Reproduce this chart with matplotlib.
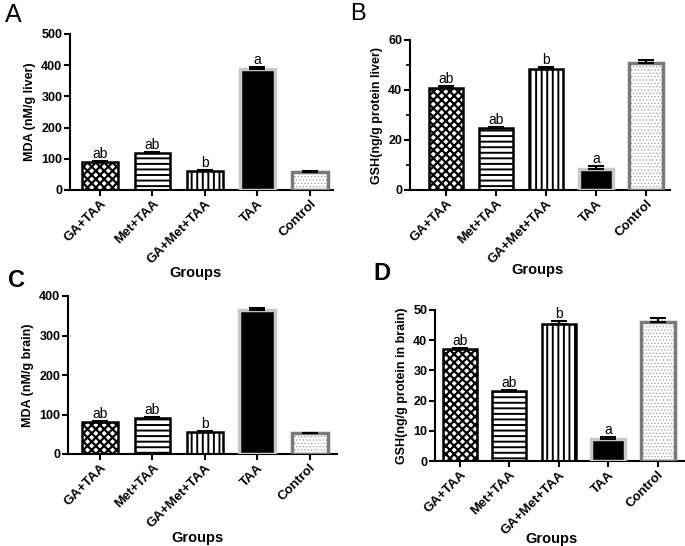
import matplotlib
matplotlib.use("Agg")
import matplotlib.pyplot as plt
from matplotlib.ticker import MultipleLocator

plt.rcParams['font.family'] = ['Liberation Sans', 'DejaVu Sans']
plt.rcParams['hatch.linewidth'] = 1.4

groups = ["GA+TAA", "Met+TAA", "GA+Met+TAA", "TAA", "Control"]

mda_liver = [90, 120, 62, 388, 58]
mda_liver_err = [3, 3, 3, 6, 3]
mda_liver_sig = ["ab", "ab", "b", "a", ""]

gsh_liver = [41, 25, 48.5, 8.5, 51]
gsh_liver_err = [0.5, 0.3, 0.8, 1.0, 1.0]
gsh_liver_sig = ["ab", "ab", "b", "a", ""]

mda_brain = [80, 91, 55, 364, 52]
mda_brain_err = [3, 2, 3, 5, 2]
mda_brain_sig = ["ab", "ab", "b", "", ""]

gsh_brain = [37, 23.2, 45.5, 7.3, 46]
gsh_brain_err = [0.5, 0.3, 1.0, 0.8, 1.2]
gsh_brain_sig = ["ab", "ab", "b", "a", ""]

fig = plt.figure(figsize=(6.85, 5.46), dpi=100)

W, H = 685.0, 546.0
def axpos(l, r, t, b):
    return [l / W, 1 - b / H, (r - l) / W, (b - t) / H]

hatches = ['xxxx', '---', '|||', None, '.....']
fills = ['white', 'white', 'white', 'black', 'white']
hatch_cols = ['black', 'black', 'black', 'black', '#9a9a9a']
hatch_lws = [1.6, 1.4, 1.4, 1.0, 0.5]
edge_cols = ['black', 'black', 'black', '#c8c8c8', '#7a7a7a']
edge_lw = [1.8, 1.8, 1.8, 2.5, 2.5]

def panel(rect, vals, errs, sig, ylim, ystep, ylabel, xlim, xlab_xy, minor=None):
    ax = fig.add_axes(axpos(*rect))
    x = list(range(len(groups)))
    w = 0.68
    for i in x:
        with plt.rc_context({'hatch.linewidth': hatch_lws[i]}):
            b = ax.bar(i, vals[i], width=w, color=fills[i], hatch=hatches[i],
                       edgecolor=hatch_cols[i], linewidth=0, zorder=2)
        for p in b.patches:
            if hasattr(p, 'set_hatch_linewidth'):
                p.set_hatch_linewidth(hatch_lws[i])
        ax.bar(i, vals[i], width=w, fill=False, edgecolor=edge_cols[i],
               linewidth=edge_lw[i], zorder=3)
    ax.errorbar(x, vals, yerr=[[0] * len(vals), errs], fmt='none',
                ecolor='black', elinewidth=1.5, capsize=6, capthick=1.5, zorder=4)
    for i in x:
        if sig[i]:
            ax.text(i, vals[i] + errs[i], sig[i], ha='center', va='bottom',
                    fontsize=10)
    ax.set_ylim(*ylim)
    ax.set_xlim(*xlim)
    ax.yaxis.set_major_locator(MultipleLocator(ystep))
    if minor:
        ax.yaxis.set_minor_locator(MultipleLocator(minor))
    ax.set_xticks(x)
    ax.set_xticklabels(groups, rotation=45, ha='right', rotation_mode='anchor',
                       fontsize=9.5, fontweight='bold')
    for lab in ax.get_yticklabels():
        lab.set_fontsize(9)
        lab.set_fontweight('bold')
    ax.spines['top'].set_visible(False)
    ax.spines['right'].set_visible(False)
    ax.spines['left'].set_linewidth(1.5)
    ax.spines['bottom'].set_linewidth(1.5)
    ax.tick_params(axis='both', which='major', width=1.5, length=4, pad=1.5)
    ax.tick_params(axis='y', which='minor', width=1.2, length=3)
    ax.set_ylabel(ylabel, fontsize=9, fontweight='bold', labelpad=4)
    fig.text(xlab_xy[0] / W, 1 - xlab_xy[1] / H, "Groups", fontsize=10.5,
             fontweight='bold', ha='center', va='center')
    return ax

panel((70, 333, 34, 190), mda_liver, mda_liver_err, mda_liver_sig, (0, 500), 100,
      "MDA (nM/g liver)", (-0.57, 4.44), (195, 273))
panel((410, 670, 40, 190), gsh_liver, gsh_liver_err, gsh_liver_sig, (0, 60), 20,
      "GSH(ng/g protein liver)", (-0.72, 4.48), (537, 270), minor=10)
panel((68, 337, 296, 454), mda_brain, mda_brain_err, mda_brain_sig, (0, 400), 100,
      "MDA (nM/g brain)", (-0.61, 4.52), (197, 538))
panel((435, 685, 310, 461), gsh_brain, gsh_brain_err, gsh_brain_sig, (0, 50), 10,
      "GSH(ng/g protein in brain)", (-0.5, 4.55), (551, 539))

fig.text(5 / W, 1 - 22 / H, "A", fontsize=18, va='baseline')
fig.text(350 / W, 1 - 20 / H, "B", fontsize=17, va='baseline')
fig.text(8 / W, 1 - 287 / H, "C", fontsize=17, fontweight='bold', va='baseline')
fig.text(373 / W, 1 - 280 / H, "D", fontsize=17, fontweight='bold', va='baseline')

fig.savefig("out.png", dpi=100)
